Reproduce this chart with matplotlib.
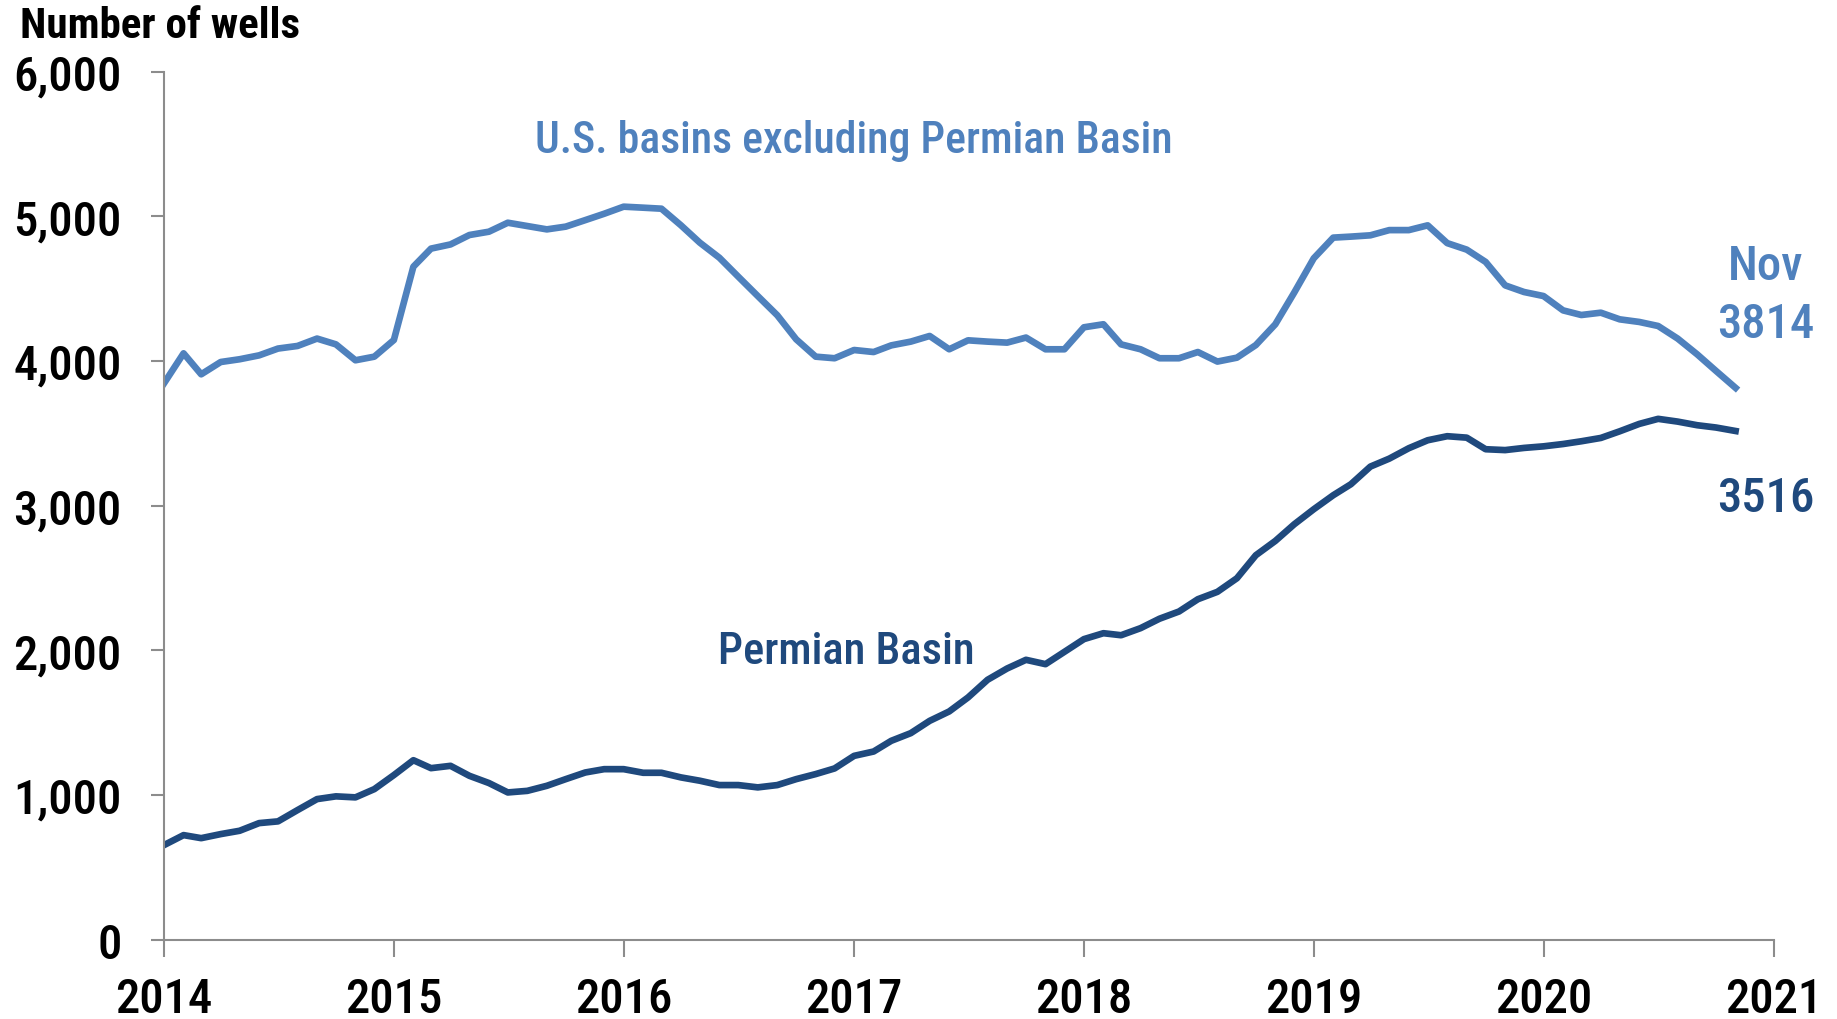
import matplotlib
matplotlib.use("Agg")
import matplotlib.pyplot as plt
import matplotlib.dates as mdates
import numpy as np
import pandas as pd

# monthly well counts, Jan 2014 - Nov 2020
start_month = "2014-01-01"
n_months = 83

permian = [
    653, 722, 701, 729, 752, 805, 817, 895, 971, 990, 983, 1040,
    1137, 1240, 1185, 1201, 1132, 1082, 1017, 1028, 1063, 1109, 1155, 1178,
    1178, 1153, 1153, 1121, 1098, 1068, 1068, 1052, 1068, 1109, 1144, 1183,
    1270, 1300, 1374, 1427, 1512, 1577, 1674, 1796, 1874, 1934, 1904, 1989,
    2077, 2118, 2104, 2153, 2218, 2268, 2353, 2404, 2498, 2657, 2756, 2871,
    2975, 3072, 3148, 3270, 3325, 3397, 3452, 3480, 3470, 3390, 3384, 3399,
    3410, 3426, 3445, 3468, 3514, 3565, 3600, 3581, 3556, 3540, 3516,
]

other_basins = [
    3846, 4053, 3908, 3993, 4012, 4039, 4086, 4104, 4155, 4115, 4005, 4030,
    4145, 4652, 4777, 4806, 4871, 4894, 4956, 4933, 4910, 4929, 4974, 5018,
    5067, 5060, 5053, 4938, 4818, 4714, 4583, 4449, 4316, 4150, 4030, 4019,
    4076, 4062, 4108, 4134, 4173, 4081, 4143, 4134, 4127, 4162, 4081, 4081,
    4233, 4254, 4115, 4081, 4019, 4019, 4062, 3996, 4023, 4110, 4254, 4473,
    4710, 4853, 4860, 4869, 4905, 4905, 4938, 4815, 4770, 4685, 4523, 4477,
    4449, 4350, 4318, 4334, 4288, 4270, 4242, 4155, 4046, 3931, 3814,
]

year_ticks = [str(y) for y in range(2014, 2022)]
y_ticks = [0, 1000, 2000, 3000, 4000, 5000, 6000]

light_blue = "#4F81BD"
dark_blue = "#1F497D"
axis_grey = "#8C8C8C"

plt.rcParams["font.family"] = ["Roboto Condensed", "DejaVu Sans"]
plt.rcParams["font.stretch"] = "condensed"
plt.rcParams["font.weight"] = 500

months = pd.date_range(start_month, periods=n_months, freq="MS")

fig = plt.figure(figsize=(18.37, 10.2), dpi=100)
ax = fig.add_axes([0.0893, 0.0779, 0.8764, 0.8508])

ax.plot(months, other_basins, color=light_blue, lw=4.8, solid_joinstyle="round")
ax.plot(months, permian, color=dark_blue, lw=4.8, solid_joinstyle="round")

ax.set_xlim(pd.Timestamp("2014-01-01"), pd.Timestamp("2021-01-01"))
ax.set_ylim(0, 6000)
ax.set_xticks([pd.Timestamp(f"{y}-01-01") for y in year_ticks])
ax.xaxis.set_major_formatter(mdates.DateFormatter("%Y"))
ax.set_yticks(y_ticks)
ax.set_yticklabels([f"{v:,}" for v in y_ticks])

for s in ["top", "right"]:
    ax.spines[s].set_visible(False)
for s in ["left", "bottom"]:
    ax.spines[s].set_color(axis_grey)
    ax.spines[s].set_linewidth(1.5)

ax.tick_params(axis="y", length=9.5, width=1.5, color=axis_grey, pad=21,
               labelsize=35)
ax.tick_params(axis="x", length=12, width=1.5, color=axis_grey, pad=14,
               labelsize=35)

fig.text(20 / 1837, 1 - 38 / 1020, "Number of wells", fontsize=31,
         fontweight=600, ha="left", va="baseline")

ax.text(pd.Timestamp("2017-01-01"), 5443, "U.S. basins excluding Permian Basin",
        color=light_blue, fontsize=31.5, ha="center", va="baseline")
ax.text(pd.Timestamp("2016-12-20"), 1911, "Permian Basin",
        color=dark_blue, fontsize=32, ha="center", va="baseline")

ax.annotate("Nov", xy=(months[-1], other_basins[-1]), xytext=(30, 109),
            textcoords="offset pixels", ha="center", va="baseline",
            color=light_blue, fontsize=35, annotation_clip=False)
ax.annotate(f"{other_basins[-1]}", xy=(months[-1], other_basins[-1]),
            xytext=(30, 51), textcoords="offset pixels", ha="center",
            va="baseline", color=light_blue, fontsize=35, annotation_clip=False)
ax.annotate(f"{permian[-1]}", xy=(months[-1], permian[-1]), xytext=(30, -80),
            textcoords="offset pixels", ha="center", va="baseline",
            color=dark_blue, fontsize=35, annotation_clip=False)

fig.savefig("out.png", dpi=100)
